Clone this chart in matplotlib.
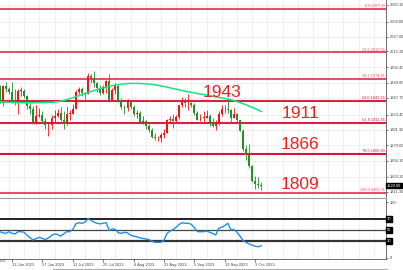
import matplotlib
matplotlib.use("Agg")
import matplotlib.pyplot as plt
import numpy as np

# daily bars, index 0 = 29 May 2023 (weekdays only); first visible bar is index 7
first_idx = 7
opens = [1963, 1940, 1965, 1961, 1957, 1943, 1942, 1958, 1958, 1950, 1936, 1932, 1913, 1921,
         1923, 1914, 1908, 1908, 1919, 1921, 1926, 1915, 1910, 1925, 1925, 1932, 1957, 1960,
         1955, 1954, 1979, 1977, 1970, 1962, 1955, 1964, 1972, 1945, 1959, 1965, 1944, 1934,
         1933, 1943, 1935, 1925, 1926, 1913, 1914, 1907, 1901, 1891, 1889, 1889, 1894, 1897,
         1915, 1917, 1914, 1920, 1937, 1942, 1940, 1940, 1938, 1926, 1916, 1919, 1919, 1921,
         1913, 1907, 1910, 1924, 1932, 1931, 1930, 1919, 1925, 1915, 1900, 1874, 1865, 1848,
         1827, 1822, 1821]
highs = [1966, 1966, 1971, 1963, 1971, 1960, 1960, 1963, 1961, 1952, 1941, 1936, 1937, 1933,
         1928, 1918, 1912, 1923, 1930, 1931, 1935, 1928, 1935, 1930, 1939, 1959, 1963, 1964,
         1957, 1984, 1982, 1987, 1971, 1966, 1966, 1974, 1982, 1962, 1970, 1966, 1947, 1938,
         1946, 1944, 1937, 1930, 1929, 1921, 1916, 1910, 1904, 1896, 1893, 1897, 1903, 1917,
         1922, 1925, 1923, 1938, 1949, 1947, 1953, 1942, 1940, 1928, 1925, 1928, 1930, 1924,
         1919, 1915, 1928, 1937, 1937, 1947, 1932, 1933, 1926, 1916, 1902, 1879, 1880, 1850,
         1834, 1833, 1826]
lows = [1940, 1936, 1957, 1953, 1940, 1937, 1925, 1950, 1948, 1932, 1925, 1910, 1910, 1920,
        1912, 1902, 1893, 1903, 1912, 1920, 1914, 1902, 1909, 1916, 1924, 1931, 1953, 1951,
        1946, 1953, 1969, 1964, 1957, 1952, 1953, 1955, 1942, 1944, 1953, 1942, 1932, 1925,
        1928, 1932, 1921, 1919, 1911, 1910, 1903, 1898, 1890, 1886, 1885, 1884, 1890, 1896,
        1912, 1904, 1913, 1917, 1935, 1935, 1930, 1935, 1923, 1915, 1914, 1913, 1918, 1907,
        1906, 1901, 1909, 1922, 1926, 1926, 1913, 1918, 1913, 1899, 1871, 1858, 1846, 1826,
        1815, 1816, 1813]
closes = [1940, 1965, 1961, 1957, 1943, 1942, 1958, 1958, 1950, 1936, 1932, 1913, 1921, 1923,
          1914, 1908, 1908, 1919, 1921, 1926, 1915, 1910, 1925, 1925, 1932, 1957, 1960, 1955,
          1954, 1979, 1977, 1970, 1962, 1955, 1964, 1972, 1945, 1959, 1965, 1944, 1934, 1933,
          1943, 1935, 1925, 1926, 1913, 1914, 1907, 1901, 1891, 1889, 1889, 1894, 1897, 1915,
          1917, 1914, 1920, 1937, 1942, 1940, 1940, 1938, 1926, 1916, 1919, 1919, 1921, 1913,
          1907, 1910, 1924, 1932, 1931, 1930, 1919, 1925, 1915, 1900, 1874, 1865, 1848, 1827,
          1822, 1821, 1820]

ma_values = [1942.0, 1941.8, 1941.6, 1941.4, 1941.2, 1941.0, 1940.9, 1940.8, 1940.7, 1940.6,
             1940.6, 1940.6, 1940.7, 1940.8, 1940.9, 1941.0, 1941.2, 1941.4, 1941.7, 1942.2,
             1943.0, 1944.0, 1945.2, 1946.6, 1948.0, 1949.5, 1951.0, 1952.5, 1954.0, 1955.5,
             1957.0, 1958.4, 1959.8, 1961.0, 1962.2, 1963.4, 1964.5, 1965.5, 1966.4, 1967.2,
             1967.8, 1968.3, 1968.6, 1968.8, 1968.9, 1968.9, 1968.8, 1968.6, 1968.3, 1967.9,
             1967.4, 1966.8, 1966.1, 1965.3, 1964.4, 1963.4, 1962.4, 1961.4, 1960.4, 1959.4,
             1958.4, 1957.5, 1956.6, 1955.8, 1955.0, 1954.2, 1953.4, 1952.6, 1951.8, 1951.0,
             1950.2, 1949.4, 1948.6, 1947.8, 1947.0, 1946.0, 1945.0, 1943.8, 1942.5, 1941.0,
             1939.4, 1937.7, 1935.9, 1934.0, 1932.0, 1930.0, 1928.0]

rsi_values = [47, 45, 44, 47, 44, 43, 47, 47, 46, 40, 36, 32, 35, 37, 35, 33, 36, 40, 43, 42,
              39, 43, 47, 47, 51, 61, 63, 62, 64, 70, 67, 64, 62, 61, 62, 63, 49, 52, 51, 45,
              44, 46, 45, 41, 39, 38, 36, 35, 34, 33, 30, 28, 28, 28, 32, 44, 48, 51, 55, 60,
              63, 62, 62, 60, 54, 47, 47, 47, 48, 46, 44, 41, 53, 55, 58, 62, 50, 51, 46, 39,
              31, 28, 25, 23, 21, 20, 22]

fib_pct = [0.0, 23.6, 38.2, 50.0, 61.8, 78.6, 100.0]
fib_price = [2077.15, 2013.95, 1974.85, 1943.25, 1911.65, 1866.65, 1809.35]
fib_colors = ["#e4506c", "#e4506c", "#e4506c", "#dc1e40", "#dc1e40", "#dc143c", "#e4506c"]
big_labels = ["1943", "1911", "1866", "1809"]
big_levels = [1943.25, 1911.65, 1866.65, 1809.35]

price_ticks = [2083.30, 2058.80, 2037.00, 2015.30, 1992.40, 1969.80, 1947.70, 1923.40,
               1901.30, 1879.00, 1856.30, 1833.20, 1811.30]
date_idx = [1, 11, 21, 31, 41, 51, 61, 71, 81, 91]
date_labels = ["30 May 2023", "13 Jun 2023", "27 Jun 2023", "11 Jul 2023", "25 Jul 2023",
               "8 Aug 2023", "22 Aug 2023", "5 Sep 2023", "19 Sep 2023", "3 Oct 2023"]
rsi_levels = [70, 50, 30]

plt.rcParams["font.family"] = ["Liberation Sans", "DejaVu Sans"]

W, H = 403, 270
fig = plt.figure(figsize=(W / 100, H / 100), dpi=100)
fig.patch.set_facecolor("white")


def rect(x0, y0, x1, y1):
    return [x0 / W, 1 - y1 / H, (x1 - x0) / W, (y1 - y0) / H]


ax = fig.add_axes(rect(0, 0, 386, 197))
ax2 = fig.add_axes(rect(0, 199, 386, 259))

px_per_bar = 3.04
xlim = (11 - 12 / px_per_bar, 11 + 374 / px_per_bar)
idx = np.arange(first_idx, first_idx + len(closes))
o, h, l, c = map(np.array, (opens, highs, lows, closes))
up = c >= o
col = np.where(up, "#f01414", "#25902a")

# grid (weekly)
grid_x = np.arange(10, 140, 5)
for a in (ax, ax2):
    for gx in grid_x:
        a.axvline(gx, color="#ececec", lw=0.6, zorder=0)
for p in price_ticks:
    ax.axhline(p, color="#ececec", lw=0.6, zorder=0)

# fibonacci levels
for pct, p, fc in zip(fib_pct, fib_price, fib_colors):
    ax.axhline(p, color=fc, lw=1.5, zorder=1)
    ax.text(xlim[1] - 0.3, p + 1.2, f"{pct:.1f} {p:.2f}", color=fc, fontsize=2.8,
            ha="right", va="bottom", zorder=5)

# candles
ax.vlines(idx, l, h, colors=col, lw=0.6, zorder=3)
ax.bar(idx, np.maximum(np.abs(c - o), 0.6), bottom=np.minimum(o, c), width=0.62,
       color=col, zorder=4, linewidth=0)

ax.plot(idx, ma_values, color="#12e680", lw=1.1, zorder=4)

for t, lev in zip(big_labels, big_levels):
    xt = 80.2 if t == "1943" else 105.8
    ax.text(xt, lev + 2.0, t, color="#f02020", fontsize=12.5, ha="center", va="bottom",
            zorder=6)

ax.set_xlim(*xlim)
ax.set_ylim(1803.5, 2090.25)
ax.set_xticks([])
ax.yaxis.tick_right()
ax.set_yticks(price_ticks)
ax.set_yticklabels([f"{p:.2f}" for p in price_ticks])
ax.tick_params(axis="y", labelsize=2.9, length=1.5, width=0.5, pad=1.0, colors="#444")
for s in ("left", "top", "bottom"):
    ax.spines[s].set_visible(False)
ax.spines["right"].set_color("#555")
ax.spines["right"].set_linewidth(0.6)
ax.text(xlim[1] + 0.15, c[-1], f"{c[-1]:.2f}", fontsize=2.9, color="white", va="center",
        ha="left", zorder=10, clip_on=False,
        bbox=dict(boxstyle="square,pad=0.2", fc="black", ec="black"))

# RSI panel
ax2.plot(idx, rsi_values, color="#1e8ff0", lw=1.0, zorder=4)
for lev, lw_, lc in zip(rsi_levels, [1.3, 0.9, 1.6], ["#111", "#444", "#333"]):
    ax2.axhline(lev, color=lc, lw=lw_, zorder=2)
    ax2.text(xlim[1] + 0.15, lev, f"{lev}", fontsize=2.9, color="white", va="center",
             ha="left", clip_on=False, zorder=10,
             bbox=dict(boxstyle="square,pad=0.2", fc="black", ec="black"))
ax2.set_xlim(*xlim)
ax2.set_ylim(-1.786, 105.36)
ax2.yaxis.tick_right()
ax2.set_yticks([0, 100])
ax2.set_yticklabels(["0", "100"])
ax2.tick_params(axis="y", labelsize=2.9, length=1.5, width=0.5, pad=1.0, colors="#444")

# date labels: the ones inside the view as ticks, the earlier one runs off the left edge
in_view = [(i, s) for i, s in zip(date_idx, date_labels) if i >= xlim[0]]
ax2.set_xticks([i for i, _ in in_view])
ax2.set_xticklabels([s for _, s in in_view], ha="left")
ax2.tick_params(axis="x", labelsize=2.9, length=2, width=0.5, pad=1, colors="#444")
for i, s in zip(date_idx, date_labels):
    if i < xlim[0]:
        ax2.text(i, -1.786, s, fontsize=2.9, color="#444", ha="left", va="top",
                 clip_on=False, transform=ax2.transData)
for s in ("left", "top"):
    ax2.spines[s].set_visible(False)
for s in ("right", "bottom"):
    ax2.spines[s].set_color("#555")
    ax2.spines[s].set_linewidth(0.6)

# panel separator and scrollbar
fig.add_artist(plt.Line2D([0, 386 / W], [1 - 198 / H] * 2, color="#9a9a9a", lw=0.8))
fig.add_artist(plt.Line2D([53 / W, 387 / W], [1 - 268.5 / H] * 2, color="#b0b0b0", lw=0.8))

fig.savefig("out.png", dpi=100)
